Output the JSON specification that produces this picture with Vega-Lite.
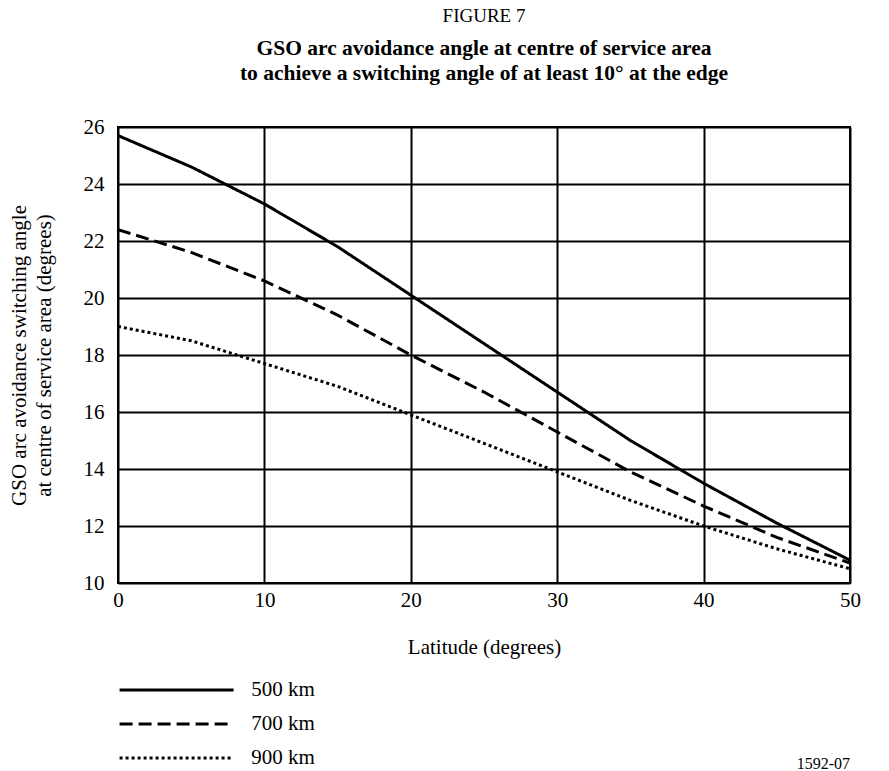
{
  "$schema": "https://vega.github.io/schema/vega-lite/v6.json",
  "width": 732,
  "height": 456,
  "autosize": {"type": "none"},
  "padding": {"left": 118, "top": 127, "right": 39, "bottom": 188},
  "background": "white",
  "config": {
    "font": "Liberation Serif",
    "view": {"stroke": "black", "strokeWidth": 2},
    "axis": {"labelFont": "Liberation Serif", "titleFont": "Liberation Serif", "labelColor": "black", "titleColor": "black", "labelFontSize": 21, "titleFontSize": 21, "titleFontWeight": "normal", "gridColor": "black", "gridWidth": 2, "gridOpacity": 1, "domain": false, "ticks": false}
  },
  "title": {
    "text": "FIGURE 7",
    "subtitle": ["GSO arc avoidance angle at centre of service area", "to achieve a switching angle of at least 10° at the edge"],
    "font": "Liberation Serif",
    "fontSize": 19,
    "fontWeight": "normal",
    "color": "black",
    "subtitleFont": "Liberation Serif",
    "subtitleFontSize": 21.5,
    "subtitleFontWeight": "bold",
    "subtitleColor": "black",
    "subtitlePadding": 12,
    "subtitleLineHeight": 25,
    "anchor": "middle",
    "offset": 32
  },
  "datasets": {
    "curves": [
      {"lat": 0, "angle": 25.7, "orbit": "500 km"},
      {"lat": 5, "angle": 24.6, "orbit": "500 km"},
      {"lat": 10, "angle": 23.3, "orbit": "500 km"},
      {"lat": 15, "angle": 21.8, "orbit": "500 km"},
      {"lat": 20, "angle": 20.1, "orbit": "500 km"},
      {"lat": 25, "angle": 18.4, "orbit": "500 km"},
      {"lat": 30, "angle": 16.7, "orbit": "500 km"},
      {"lat": 35, "angle": 15.0, "orbit": "500 km"},
      {"lat": 40, "angle": 13.5, "orbit": "500 km"},
      {"lat": 45, "angle": 12.1, "orbit": "500 km"},
      {"lat": 50, "angle": 10.8, "orbit": "500 km"},
      {"lat": 0, "angle": 22.4, "orbit": "700 km"},
      {"lat": 5, "angle": 21.6, "orbit": "700 km"},
      {"lat": 10, "angle": 20.6, "orbit": "700 km"},
      {"lat": 15, "angle": 19.4, "orbit": "700 km"},
      {"lat": 20, "angle": 18.0, "orbit": "700 km"},
      {"lat": 25, "angle": 16.7, "orbit": "700 km"},
      {"lat": 30, "angle": 15.3, "orbit": "700 km"},
      {"lat": 35, "angle": 13.9, "orbit": "700 km"},
      {"lat": 40, "angle": 12.7, "orbit": "700 km"},
      {"lat": 45, "angle": 11.6, "orbit": "700 km"},
      {"lat": 50, "angle": 10.7, "orbit": "700 km"},
      {"lat": 0, "angle": 19.0, "orbit": "900 km"},
      {"lat": 5, "angle": 18.5, "orbit": "900 km"},
      {"lat": 10, "angle": 17.7, "orbit": "900 km"},
      {"lat": 15, "angle": 16.9, "orbit": "900 km"},
      {"lat": 20, "angle": 15.9, "orbit": "900 km"},
      {"lat": 25, "angle": 14.9, "orbit": "900 km"},
      {"lat": 30, "angle": 13.9, "orbit": "900 km"},
      {"lat": 35, "angle": 12.9, "orbit": "900 km"},
      {"lat": 40, "angle": 12.0, "orbit": "900 km"},
      {"lat": 45, "angle": 11.2, "orbit": "900 km"},
      {"lat": 50, "angle": 10.5, "orbit": "900 km"}
    ],
    "note": [{"lat": 50, "angle": 3.66, "label": "1592-07"}]
  },
  "layer": [
    {
      "data": {"name": "curves"},
      "mark": {"type": "line", "color": "black", "strokeWidth": 3, "clip": true},
      "encoding": {
        "x": {"field": "lat", "type": "quantitative", "scale": {"domain": [0, 50], "nice": false}, "axis": {"values": [0, 10, 20, 30, 40, 50], "title": "Latitude (degrees)", "labelPadding": 6, "titlePadding": 26, "labelFlush": false}},
        "y": {"field": "angle", "type": "quantitative", "scale": {"domain": [10, 26], "nice": false, "zero": false}, "axis": {"values": [10, 12, 14, 16, 18, 20, 22, 24, 26], "title": ["GSO arc avoidance switching angle", "at centre of service area (degrees)"], "labelPadding": 14, "titlePadding": 29, "titleLineHeight": 25}},
        "strokeDash": {
          "field": "orbit", "type": "nominal",
          "scale": {"domain": ["500 km", "700 km", "900 km"], "range": [[1, 0], [13, 6], [3, 3]]},
          "legend": {
            "title": null, "orient": "none", "legendX": 45.6, "legendY": 550, "padding": 0,
            "symbolType": "M-5,0H5", "symbolSize": 520, "symbolStrokeWidth": 3, "symbolStrokeColor": "black",
            "labelFont": "Liberation Serif", "labelFontSize": 21, "labelColor": "black", "labelOffset": 61.6, "rowPadding": 11
          }
        }
      }
    },
    {
      "data": {"name": "note"},
      "mark": {"type": "text", "font": "Liberation Serif", "fontSize": 16, "color": "black", "align": "right", "dx": 0, "clip": false},
      "encoding": {
        "x": {"field": "lat", "type": "quantitative"},
        "y": {"field": "angle", "type": "quantitative"},
        "text": {"field": "label"}
      }
    }
  ]
}
